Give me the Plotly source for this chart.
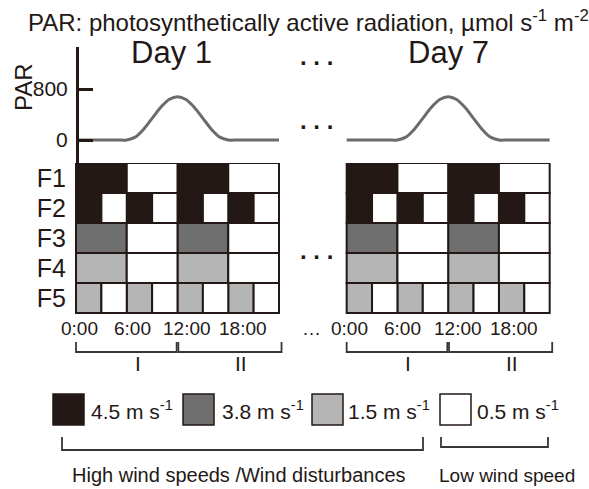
import plotly.graph_objects as go

W, H = 589, 489

# ---------------- data ----------------
ROWS = ["F1", "F2", "F3", "F4", "F5"]
# wind speed (m s-1) for consecutive blocks of one day, per treatment
F1_SPEEDS = [4.5, 0.5, 4.5, 0.5]
F2_SPEEDS = [4.5, 0.5, 4.5, 0.5, 4.5, 0.5, 4.5, 0.5]
F3_SPEEDS = [3.8, 0.5, 3.8, 0.5]
F4_SPEEDS = [1.5, 0.5, 1.5, 0.5]
F5_SPEEDS = [1.5, 0.5, 1.5, 0.5, 1.5, 0.5, 1.5, 0.5]
BLOCK_HOURS = [6, 3, 6, 6, 3]  # length of one block in each row

# daily light course, µmol s-1 m-2
PAR_HOURS = list(range(25))
PAR_VALUES = [0, 0, 0, 0, 0, 0, 0, 45, 170, 340, 510, 635, 680,
              635, 510, 340, 170, 45, 0, 0, 0, 0, 0, 0, 0]
PAR_TICKS = [0, 800]

DAYS = ["Day 1", "Day 7"]
TIME_TICKS = [0, 6, 12, 18]
TIME_LABELS = ["0:00", "6:00", "12:00", "18:00"]
PERIODS = ["I", "II"]
LEGEND_SPEEDS = [4.5, 3.8, 1.5, 0.5]
GROUP_LABELS = ["High wind speeds /Wind disturbances", "Low wind speed"]

# ---------------- style / layout ----------------
FONT = "Liberation Sans, Arial, Helvetica, sans-serif"
INK = "#231815"
BRACKET = "#3b3535"
CURVE = "#6b6b6b"
SPEED_COLORS = {4.5: "#231815", 3.8: "#6f6f6f", 1.5: "#b5b5b5", 0.5: "#ffffff"}

PX_PER_H = 203 / 24.0      # horizontal scale of the day panels
X0_PX = 76                 # left edge of the first day panel
DAY_OFFSETS = [0, 32]      # hour position of each panel on the shared axis
GRID_TOP, ROW_PX = 163, 30
PAR_AXIS_TOP, PAR_AXIS_BOT = 47, 163
PAR0_PX, PAR800_PX = 140, 89


def px(x):
    return x / W


def py(y):
    return 1 - y / H


def note(text, x, y, size, xref="paper", yref="paper", xanchor="center",
         yanchor="middle", **kw):
    return dict(text=text, x=x, y=y, xref=xref, yref=yref, xanchor=xanchor,
                yanchor=yanchor, showarrow=False, font=dict(size=size), **kw)


rows_speeds = [F1_SPEEDS, F2_SPEEDS, F3_SPEEDS, F4_SPEEDS, F5_SPEEDS]

fig = go.Figure()

# wind treatment cells, one trace per speed level
for speed in LEGEND_SPEEDS:
    ys, xs, bases = [], [], []
    for off in DAY_OFFSETS:
        for r, (speeds, blk) in enumerate(zip(rows_speeds, BLOCK_HOURS)):
            for k, s in enumerate(speeds):
                if s == speed:
                    ys.append(r + 0.5)
                    xs.append(blk)
                    bases.append(off + k * blk)
    fig.add_trace(go.Bar(
        y=ys, x=xs, base=bases, orientation="h", width=1.0,
        marker=dict(color=SPEED_COLORS[speed], line=dict(color=INK, width=2)),
        hoverinfo="skip", xaxis="x", yaxis="y",
    ))

# PAR curve for each displayed day
for off in DAY_OFFSETS:
    fig.add_trace(go.Scatter(
        x=[off + h for h in PAR_HOURS], y=PAR_VALUES, mode="lines",
        line=dict(color=CURVE, width=3, shape="spline", smoothing=0.8),
        hoverinfo="skip", xaxis="x", yaxis="y2",
    ))

units_per_px = (PAR_TICKS[1] - PAR_TICKS[0]) / (PAR0_PX - PAR800_PX)

fig.update_layout(
    width=W, height=H, margin=dict(l=0, r=0, t=0, b=0),
    paper_bgcolor="white", plot_bgcolor="white", showlegend=False,
    barmode="overlay",
    font=dict(family=FONT, color=INK),
    xaxis=dict(domain=[0, 1], range=[-X0_PX / PX_PER_H, (W - X0_PX) / PX_PER_H],
               visible=False, fixedrange=True),
    yaxis=dict(domain=[0, 1],
               range=[(H - GRID_TOP) / ROW_PX, -GRID_TOP / ROW_PX],
               tickvals=[i + 0.5 for i in range(len(ROWS))], ticktext=ROWS,
               tickfont=dict(size=25, family=FONT, color=INK),
               showgrid=False, zeroline=False, showline=False, ticks="",
               anchor="free", position=px(X0_PX), ticklabelstandoff=10,
               fixedrange=True),
    yaxis2=dict(domain=[py(PAR_AXIS_BOT), py(PAR_AXIS_TOP)],
                range=[-(PAR_AXIS_BOT - PAR0_PX) * units_per_px,
                       (PAR0_PX - PAR_AXIS_TOP) * units_per_px],
                tickvals=PAR_TICKS, ticktext=[str(v) for v in PAR_TICKS],
                tickfont=dict(size=21, family=FONT, color=INK),
                showline=True, linecolor=INK, linewidth=3,
                ticks="inside", ticklen=14, tickwidth=3, tickcolor=INK,
                showgrid=False, zeroline=False,
                anchor="free", position=px(X0_PX + 1), ticklabelstandoff=4,
                fixedrange=True),
)

ann = []
shapes = []

# header
ann.append(note("PAR: photosynthetically active radiation, µmol s<sup>-1</sup> m<sup>-2</sup>",
                px(26), py(21), 24, xanchor="left"))
ann.append(note("PAR", px(24), py(87), 24, textangle=-90))

# day titles
for name, off, shift in zip(DAYS, DAY_OFFSETS, [-6, 0]):
    ann.append(note(name, off + 12, py(53), 31, xref="x", xshift=shift))

# ellipses between the two days
for ypx in [56, 120, 251]:
    ann.append(note("<b>. . .</b>", px(316), py(ypx), 24))
ann.append(note("…", px(311), py(328), 19))

# clock labels under each day
label_shifts = [3, 5.5, 9.5, 15]
for off in DAY_OFFSETS:
    for t, lab, sh in zip(TIME_TICKS, TIME_LABELS, label_shifts):
        ann.append(note(lab, off + t, py(328), 19, xref="x", xshift=sh))

# half-day brackets I / II
spans = [(0, 11.9), (12.1, 24.3)]
for off in DAY_OFFSETS:
    for (a, b), lab, lx in zip(spans, PERIODS, [7.3, 19.5]):
        x0, x1 = off + a, off + b
        shapes.append(dict(type="path", xref="x", yref="paper",
                           path=f"M {x0},{py(342)} L {x0},{py(352)} L {x1},{py(352)} L {x1},{py(342)}",
                           line=dict(color=BRACKET, width=1.8)))
        ann.append(note(lab, off + lx, py(363), 21, xref="x"))

# legend swatches
sw_left = [53, 183, 312, 440]
txt_left = [89, 220, 346, 475]
for speed, sl, tl in zip(LEGEND_SPEEDS, sw_left, txt_left):
    shapes.append(dict(type="rect", xref="paper", yref="paper",
                       x0=px(sl), x1=px(sl + 31), y0=py(425), y1=py(394),
                       fillcolor=SPEED_COLORS[speed], line=dict(color=INK, width=1.5)))
    ann.append(note(f"{speed} m s<sup>-1</sup>", px(tl), py(410), 21, xanchor="left"))

# grouping brackets under the legend
for (l, r, bot), lab, tl, fs in zip([(62, 423, 450), (441, 548, 447)], GROUP_LABELS,
                                    [70, 437], [20, 19]):
    shapes.append(dict(type="path", xref="paper", yref="paper",
                       path=f"M {px(l)},{py(437)} L {px(l)},{py(bot)} L {px(r)},{py(bot)} L {px(r)},{py(437)}",
                       line=dict(color=BRACKET, width=1.8)))
    ann.append(note(lab, px(tl), py(475), fs, xanchor="left"))

fig.update_layout(annotations=ann, shapes=shapes)
fig.write_html("out.html")
